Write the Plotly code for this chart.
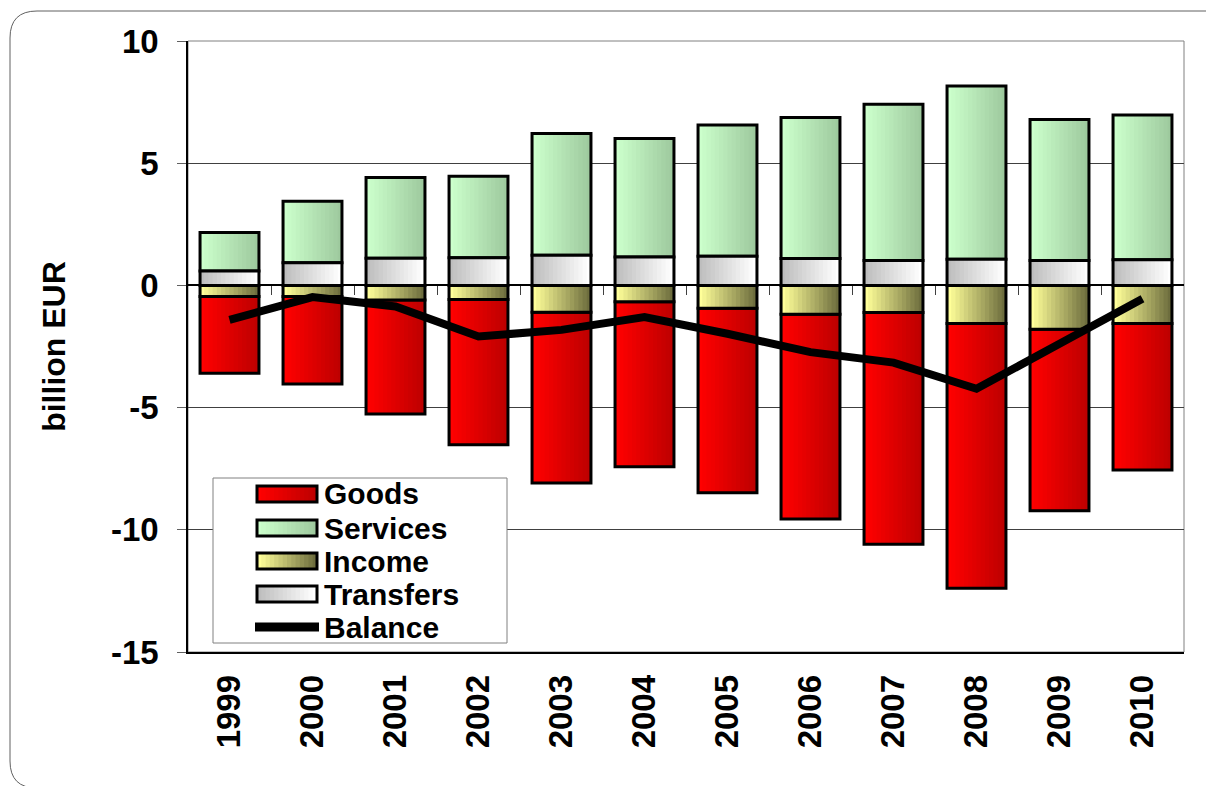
import numpy as np
import plotly.graph_objects as go

# ---------------------------------------------------------------------------
# Data (billion EUR)
# ---------------------------------------------------------------------------
years = [1999, 2000, 2001, 2002, 2003, 2004, 2005, 2006, 2007, 2008, 2009, 2010]
goods = [-3.14, -3.58, -4.66, -5.94, -6.99, -6.75, -7.54, -8.38, -9.48, -10.83, -7.43, -5.99]
services = [1.57, 2.51, 3.30, 3.34, 4.99, 4.85, 5.37, 5.77, 6.39, 7.09, 5.77, 5.92]
income = [-0.45, -0.45, -0.60, -0.58, -1.10, -0.67, -0.94, -1.18, -1.11, -1.56, -1.79, -1.56]
transfers = [0.59, 0.93, 1.11, 1.13, 1.23, 1.16, 1.19, 1.10, 1.02, 1.07, 1.02, 1.05]
balance = [-1.41, -0.48, -0.86, -2.09, -1.82, -1.30, -1.98, -2.73, -3.16, -4.23, -2.39, -0.55]
year_labels = [str(y) for y in years]
y_ticks = [10, 5, 0, -5, -10, -15]
y_labels = ["10", "5", "0", "-5", "-10", "-15"]

# stacking: transfers then services above zero, income then goods below
t = np.array(transfers)
i = np.array(income)
segments = [
    # name, heights, bases, left colour, right colour
    ("Goods", np.array(goods), i, (255, 0, 0), (190, 0, 0)),
    ("Services", np.array(services), t, (204, 255, 204), (158, 202, 158)),
    ("Income", i, np.zeros(len(years)), (255, 255, 153), (110, 110, 62)),
    ("Transfers", t, np.zeros(len(years)), (190, 190, 190), (255, 255, 255)),
]

BAR_W = 0.71
N_STRIPS = 14
FONT = "Liberation Sans, Arial, sans-serif"


def mix(c0, c1, f):
    return "rgb({},{},{})".format(*[round(a + (b - a) * f) for a, b in zip(c0, c1)])


fig = go.Figure()

for name, h, base, c0, c1 in segments:
    # horizontal gradient, built from strips that each run to the right edge
    for k in range(N_STRIPS):
        off = -BAR_W / 2 + k * BAR_W / N_STRIPS
        fig.add_trace(go.Bar(
            x=years, y=h, base=base, width=BAR_W - k * BAR_W / N_STRIPS, offset=off,
            marker=dict(color=mix(c0, c1, k / (N_STRIPS - 1)), line=dict(width=0)),
            name=name, showlegend=False, hoverinfo="skip",
        ))
    # outline on top
    fig.add_trace(go.Bar(
        x=years, y=h, base=base, width=BAR_W, name=name,
        marker=dict(color="rgba(0,0,0,0)", line=dict(color="black", width=3)),
        showlegend=False,
    ))

fig.add_trace(go.Scatter(
    x=years, y=balance, mode="lines", name="Balance", showlegend=False,
    line=dict(color="black", width=8),
))

# invisible copy so the zero-line tick axis gets drawn
fig.add_trace(go.Scatter(
    x=years, y=balance, xaxis="x2", mode="lines", opacity=0,
    showlegend=False, hoverinfo="skip",
))

# page is offset by the 8px body margin; work in window pixels
OFF = 8
W, H = 1214 - OFF, 786 - OFF
L, T = 188 - OFF, 41 - OFF
pw, ph = 996, 611
R, B = W - L - pw, H - T - ph


def px(x):
    return (x - OFF - L) / pw


def py(y):
    return (T + ph - (y - OFF)) / ph


# rounded chart frame
x0, y0, x1, y1, rad = 10, 11, 1240, 788, 27
frame = (
    f"M {px(x0 + rad)},{py(y0)} L {px(x1 - rad)},{py(y0)} "
    f"Q {px(x1)},{py(y0)} {px(x1)},{py(y0 + rad)} "
    f"L {px(x1)},{py(y1 - rad)} Q {px(x1)},{py(y1)} {px(x1 - rad)},{py(y1)} "
    f"L {px(x0 + rad)},{py(y1)} Q {px(x0)},{py(y1)} {px(x0)},{py(y1 - rad)} "
    f"L {px(x0)},{py(y0 + rad)} Q {px(x0)},{py(y0)} {px(x0 + rad)},{py(y0)} Z"
)

shapes = [
    dict(type="rect", xref="paper", yref="paper", x0=0, y0=0, x1=1, y1=1,
         line=dict(color="#808080", width=1), layer="below"),
    dict(type="path", xref="paper", yref="paper", path=frame,
         line=dict(color="#606060", width=1)),
]
annotations = []

# ---------------------------------------------------------------------------
# Legend drawn by hand so the swatches keep the gradients
# ---------------------------------------------------------------------------
lg_x0, lg_y0, lg_x1, lg_y1 = 213, 478, 507, 643
sw_x0, sw_x1, sw_h = 257, 317, 16
row_y = [494, 528, 561, 594, 627]
shapes.append(dict(type="rect", xref="paper", yref="paper",
                   x0=px(lg_x0), x1=px(lg_x1), y0=py(lg_y1), y1=py(lg_y0),
                   fillcolor="white", line=dict(color="#808080", width=1)))

legend_order = ["Goods", "Services", "Income", "Transfers"]
seg_by_name = {s[0]: s for s in segments}
for name, yc in zip(legend_order + ["Balance"], row_y):
    if name == "Balance":
        shapes.append(dict(type="line", xref="paper", yref="paper",
                           x0=px(sw_x0 - 2), x1=px(sw_x1 + 2), y0=py(yc), y1=py(yc),
                           line=dict(color="black", width=9)))
    else:
        _, _, _, c0, c1 = seg_by_name[name]
        step = (sw_x1 - sw_x0) / N_STRIPS
        for k in range(N_STRIPS):
            shapes.append(dict(type="rect", xref="paper", yref="paper",
                               x0=px(sw_x0 + k * step), x1=px(sw_x1),
                               y0=py(yc + sw_h / 2), y1=py(yc - sw_h / 2),
                               fillcolor=mix(c0, c1, k / (N_STRIPS - 1)),
                               line=dict(width=0)))
        shapes.append(dict(type="rect", xref="paper", yref="paper",
                           x0=px(sw_x0), x1=px(sw_x1),
                           y0=py(yc + sw_h / 2), y1=py(yc - sw_h / 2),
                           line=dict(color="black", width=3)))
    annotations.append(dict(xref="paper", yref="paper", x=px(sw_x1 + 5), y=py(yc),
                            text=name, showarrow=False, xanchor="left", yanchor="middle",
                            font=dict(family=FONT, size=30, color="black", weight="bold")))

fig.update_layout(
    width=W, height=H,
    margin=dict(l=L, r=R, t=T, b=B),
    barmode="overlay",
    plot_bgcolor="white", paper_bgcolor="white",
    font=dict(family=FONT, size=33, color="black", weight="bold"),
    showlegend=False,
    shapes=shapes,
    annotations=annotations,
    xaxis=dict(
        range=[1998.5, 2010.5], tickvals=years, ticktext=year_labels,
        tickangle=-90, showgrid=False, zeroline=False,
        showline=True, linecolor="black", linewidth=1.5, ticks="",
        tickfont=dict(family=FONT, size=33, weight="bold"),
        ticklabelstandoff=8,
    ),
    xaxis2=dict(
        overlaying="x", anchor="free", position=15 / 25, side="bottom",
        range=[1998.5, 2010.5], tickvals=[y + 0.5 for y in years[:-1]],
        ticks="outside", ticklen=9, tickcolor="#404040", tickwidth=1,
        showticklabels=False, showgrid=False, zeroline=False, showline=False,
    ),
    yaxis=dict(
        range=[-15, 10], tickvals=y_ticks, ticktext=y_labels,
        ticks="outside", ticklen=9,
        tickcolor="#606060", showgrid=True, gridcolor="#404040", gridwidth=1,
        zeroline=True, zerolinecolor="black", zerolinewidth=1.5,
        showline=True, linecolor="black", linewidth=1.5,
        tickfont=dict(family=FONT, size=33, weight="bold"),
        ticklabelstandoff=12,
        title=dict(text="billion EUR", standoff=36,
                   font=dict(family=FONT, size=32, weight="bold")),
        automargin=False,
    ),
)

fig.write_html("out.html")
